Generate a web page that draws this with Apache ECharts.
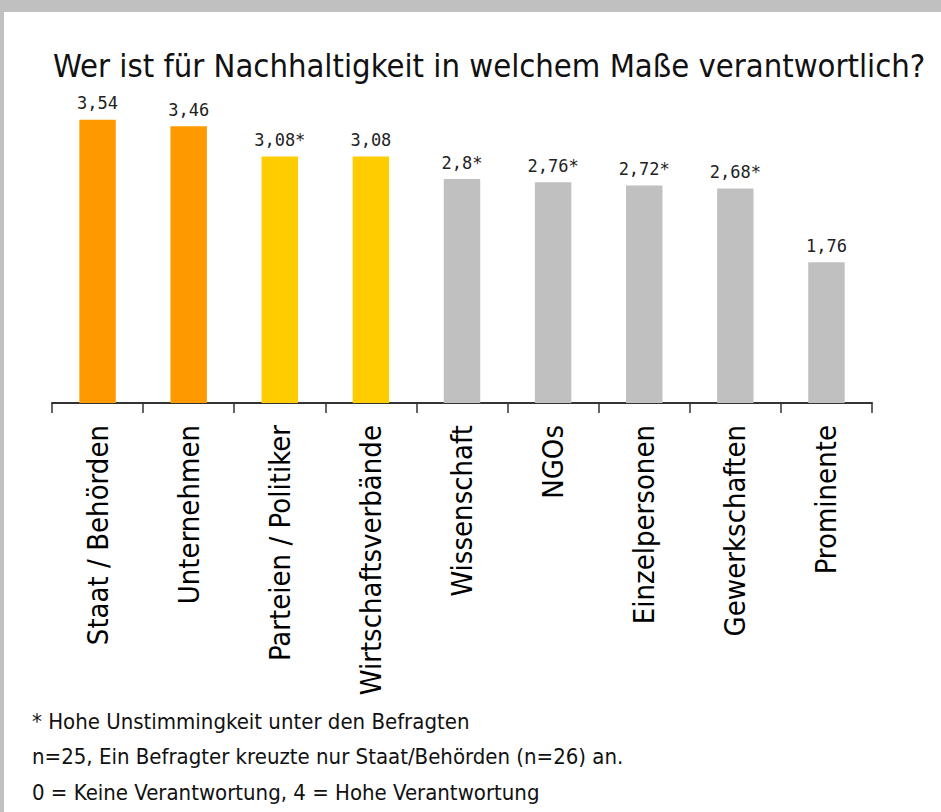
<!DOCTYPE html>
<html>
<head>
<meta charset="utf-8">
<script src="https://cdn.jsdelivr.net/npm/echarts@6/dist/echarts.min.js"></script>
<style>
  html, body { margin: 0; padding: 0; background: #c0c0c0; }
  #chart { position: absolute; left: 4px; top: 12px; width: 937px; height: 800px; background: #fff; }
</style>
</head>
<body>
<div id="chart"></div>
<script>
// data
const categories = ['Staat / Behörden', 'Unternehmen', 'Parteien / Politiker', 'Wirtschaftsverbände',
  'Wissenschaft', 'NGOs', 'Einzelpersonen', 'Gewerkschaften', 'Prominente']
const scores = [3.54, 3.46, 3.08, 3.08, 2.8, 2.76, 2.72, 2.68, 1.76]
const highDisagreement = [false, false, true, false, true, true, true, true, false]
const chartTitle = 'Wer ist für Nachhaltigkeit in welchem Maße verantwortlich?'
const footnotes = [
  '* Hohe Unstimmingkeit unter den Befragten',
  'n=25, Ein Befragter kreuzte nur Staat/Behörden (n=26) an.',
  '0 = Keine Verantwortung, 4 = Hohe Verantwortung'
]

const chart = echarts.init(document.getElementById('chart'), null, { renderer: 'svg' })

const narrowFont = 'DejaVu Sans Condensed, DejaVu Sans'
const barColor = (i) => i < 2 ? '#ff9900' : (i < 4 ? '#ffcc00' : '#c0c0c0')

const option = {
  animation: false,
  title: {
    text: chartTitle,
    left: 44,
    top: 32,
    textStyle: {
      fontFamily: narrowFont,
      fontSize: 32.5,
      fontWeight: 'normal',
      color: '#111'
    }
  },
  grid: { left: 48, right: 69, top: 71, bottom: 409 },
  xAxis: {
    type: 'category',
    data: categories,
    axisLine: { lineStyle: { color: '#333', width: 2 } },
    axisTick: { show: true, length: 10, lineStyle: { color: '#333', width: 1.5 } },
    axisLabel: {
      rotate: 90,
      margin: 22,
      interval: 0,
      fontFamily: narrowFont,
      fontSize: 29,
      color: '#000'
    }
  },
  yAxis: { type: 'value', min: 0, max: 4, show: false },
  series: [{
    type: 'bar',
    data: scores,
    barWidth: '40%',
    itemStyle: { color: (p) => barColor(p.dataIndex) },
    label: {
      show: true,
      position: 'top',
      distance: 8,
      fontFamily: 'DejaVu Sans Mono, monospace',
      fontSize: 17,
      color: '#222',
      formatter: (p) => String(p.value).replace('.', ',') + (highDisagreement[p.dataIndex] ? '*' : '')
    }
  }],
  graphic: footnotes.map((t, i) => ({
    type: 'text',
    left: 28,
    top: 698 + i * 35.5,
    style: {
      text: t,
      fontFamily: narrowFont,
      fontSize: 22,
      fill: '#111'
    }
  }))
}

chart.setOption(option)
</script>
</body>
</html>
